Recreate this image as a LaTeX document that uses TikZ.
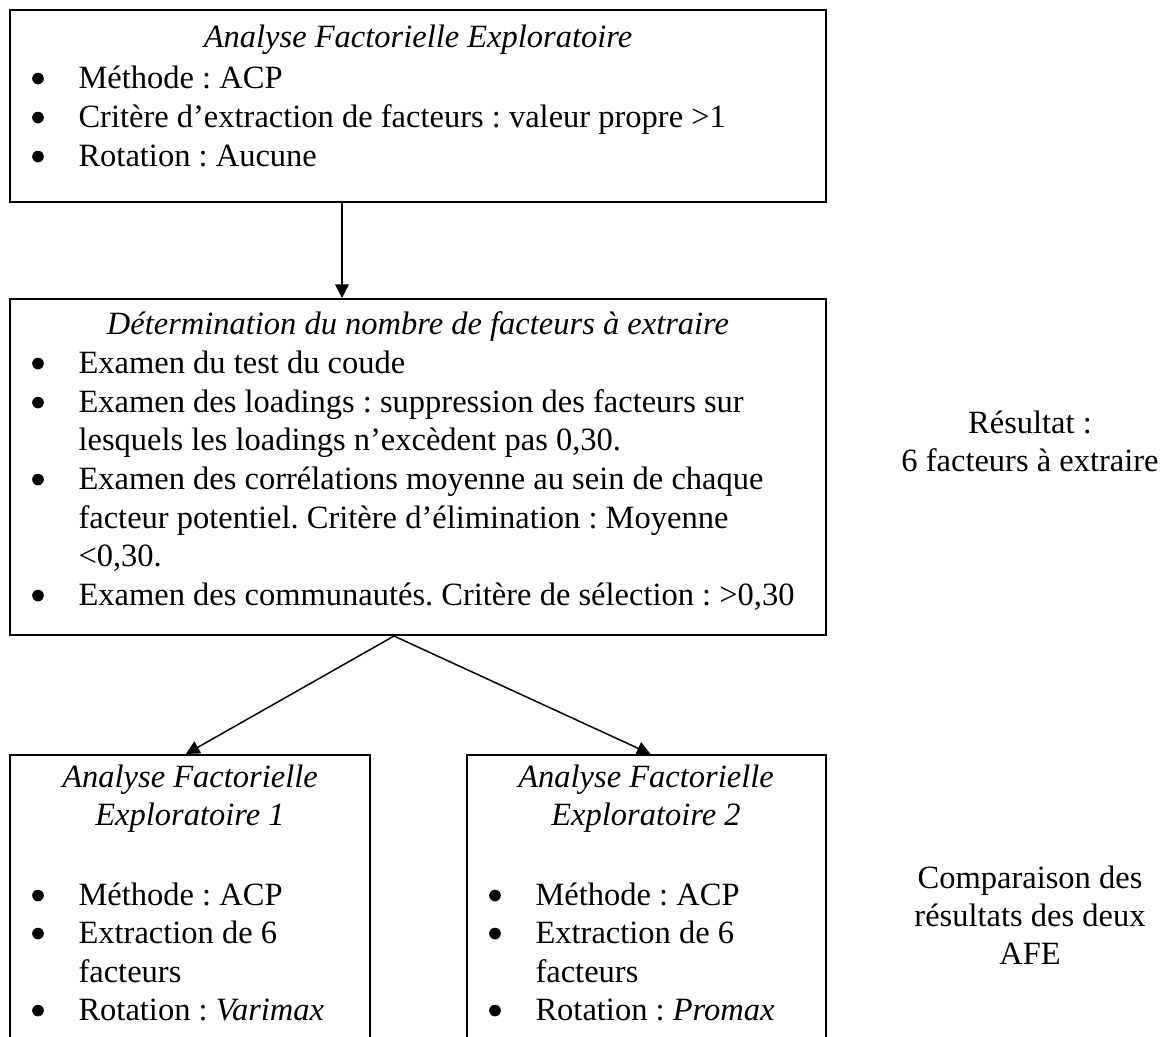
\documentclass[tikz,border=0pt]{standalone}
\usepackage{fontspec}
\setmainfont{Liberation Serif}
\usetikzlibrary{arrows.meta,fit,calc}
% one drawing unit = one pixel of a 1169 x 1036 sheet
\newcommand\pxu{0.36923pt}
\frenchspacing
\begin{document}
\begin{tikzpicture}[x=\pxu, y=-\pxu,
  boxframe/.style={draw, line width=0.75pt, inner sep=0pt},
  body/.style={inner sep=0pt, font=\fontsize{12}{13.8}\selectfont},
  txt/.style={body, anchor=base west},
  ctr/.style={body, anchor=base},
  ttl/.style={body, anchor=base, font=\fontsize{12}{13.8}\selectfont\itshape},
  bul/.style={circle, fill, inner sep=0pt, minimum size=4.3pt, yshift=3.5pt},
  arr/.style={-{Triangle[length=5pt,width=5pt]}, line width=0.55pt}]

\useasboundingbox (0,0) rectangle (1169,1036);
\clip (0,0) rectangle (1169,1036);

% ---- boxes
\node[boxframe, fit={(10,10) (826,202)}] (b1) {};
\node[boxframe, fit={(10,299) (826,635)}] (b2) {};
\node[boxframe, fit={(10,755) (370,1080)}] (b3) {};
\node[boxframe, fit={(467,755) (826,1080)}] (b4) {};

% ---- first analysis
\node[ttl] (t1) at (418,47) {Analyse Factorielle Exploratoire};
\node[bul] (b1p1) at (38,88) {};
\node[txt] (b1l1) at (78,88) {Méthode : ACP};
\node[bul] (b1p2) at (38,127) {};
\node[txt] (b1l2) at (78,127) {Critère d’extraction de facteurs : valeur propre >1};
\node[bul] (b1p3) at (38,166) {};
\node[txt] (b1l3) at (78,166) {Rotation : Aucune};

% ---- number of factors
\node[ttl] (t2) at (418,334) {Détermination du nombre de facteurs à extraire};
\node[bul] (b2p1) at (38,373) {};
\node[txt] (b2l1) at (78,373) {Examen du test du coude};
\node[bul] (b2p2) at (38,412) {};
\node[txt] (b2l2) at (78,412) {Examen des loadings : suppression des facteurs sur};
\node[txt] (b2l3) at (78,450) {lesquels les loadings n’excèdent pas 0,30.};
\node[bul] (b2p3) at (38,489) {};
\node[txt] (b2l4) at (78,489) {Examen des corrélations moyenne au sein de chaque};
\node[txt] (b2l5) at (78,528) {facteur potentiel. Critère d’élimination : Moyenne};
\node[txt] (b2l6) at (78,566) {<0,30.};
\node[bul] (b2p4) at (38,605) {};
\node[txt] (b2l7) at (78,605) {Examen des communautés. Critère de sélection : >0,30};

% ---- second-stage analyses
\node[ttl] (t3a) at (190,787) {Analyse Factorielle};
\node[ttl] (t3b) at (190,825) {Exploratoire 1};
\node[bul] (b3p1) at (38,905) {};
\node[txt] (b3l1) at (78,905) {Méthode : ACP};
\node[bul] (b3p2) at (38,943) {};
\node[txt] (b3l2) at (78,943) {Extraction de 6};
\node[txt] (b3l3) at (78,982) {facteurs};
\node[bul] (b3p3) at (38,1020) {};
\node[txt] (b3l4) at (78,1020) {Rotation : \textit{Varimax}};

\node[ttl] (t4a) at (646,787) {Analyse Factorielle};
\node[ttl] (t4b) at (646,825) {Exploratoire 2};
\node[bul] (b4p1) at (495,905) {};
\node[txt] (b4l1) at (535,905) {Méthode : ACP};
\node[bul] (b4p2) at (495,943) {};
\node[txt] (b4l2) at (535,943) {Extraction de 6};
\node[txt] (b4l3) at (535,982) {facteurs};
\node[bul] (b4p3) at (495,1020) {};
\node[txt] (b4l4) at (535,1020) {Rotation : \textit{Promax}};

% ---- side notes
\node[ctr] (r1) at (1030,433) {Résultat :};
\node[ctr] (r2) at (1030,471) {6 facteurs à extraire};
\node[ctr] (c1) at (1030,888) {Comparaison des};
\node[ctr] (c2) at (1030,926) {résultats des deux};
\node[ctr] (c3) at (1030,964) {AFE};

% ---- connectors
\draw[arr] ([xshift=333*\pxu]b1.south west) -- ([xshift=333*\pxu]b2.north west);
\draw[arr] ([xshift=385*\pxu]b2.south west) -- ([xshift=-4*\pxu]b3.north);
\draw[arr] ([xshift=385*\pxu]b2.south west) -- ([xshift=4*\pxu]b4.north);
\end{tikzpicture}
\end{document}
